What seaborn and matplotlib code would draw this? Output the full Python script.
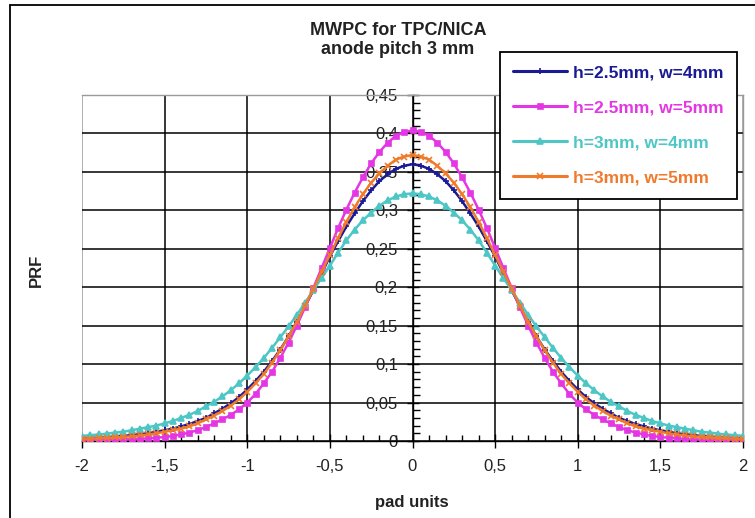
import numpy as np
import pandas as pd
import matplotlib
matplotlib.use("Agg")
import matplotlib.pyplot as plt
import seaborn as sns
from matplotlib.ticker import MultipleLocator, FuncFormatter
from matplotlib.lines import Line2D

# ---------------- data ----------------
pad_x = np.round(np.linspace(-2, 2, 81), 2)

series_labels = ["h=2.5mm, w=4mm", "h=2.5mm, w=5mm", "h=3mm, w=4mm", "h=3mm, w=5mm"]

prf_h25_w4 = [0.0034, 0.0039, 0.0044, 0.0050, 0.0057, 0.0066, 0.0076, 0.0088, 0.010, 0.012,
              0.014, 0.016, 0.019, 0.022, 0.026, 0.030, 0.036, 0.042, 0.049, 0.057,
              0.067, 0.078, 0.090, 0.104, 0.119, 0.136, 0.155, 0.175, 0.196, 0.218,
              0.240, 0.260, 0.279, 0.296, 0.312, 0.326, 0.338, 0.347, 0.354, 0.358,
              0.360,
              0.358, 0.354, 0.347, 0.338, 0.326, 0.312, 0.296, 0.279, 0.260, 0.240,
              0.218, 0.196, 0.175, 0.155, 0.136, 0.119, 0.104, 0.090, 0.078, 0.067,
              0.057, 0.049, 0.042, 0.036, 0.030, 0.026, 0.022, 0.019, 0.016, 0.014,
              0.012, 0.010, 0.0088, 0.0076, 0.0066, 0.0057, 0.0050, 0.0044, 0.0039, 0.0034]

prf_h25_w5 = [0.0008, 0.0009, 0.0011, 0.0013, 0.0016, 0.0019, 0.0023, 0.0028, 0.0034, 0.0042,
              0.0052, 0.0065, 0.0085, 0.011, 0.014, 0.018, 0.023, 0.028, 0.034, 0.041,
              0.050, 0.061, 0.075, 0.090, 0.108, 0.128, 0.150, 0.174, 0.199, 0.225,
              0.251, 0.277, 0.301, 0.323, 0.343, 0.361, 0.376, 0.388, 0.397, 0.402,
              0.404,
              0.402, 0.397, 0.388, 0.376, 0.361, 0.343, 0.323, 0.301, 0.277, 0.251,
              0.225, 0.199, 0.174, 0.150, 0.128, 0.108, 0.090, 0.075, 0.061, 0.050,
              0.041, 0.034, 0.028, 0.023, 0.018, 0.014, 0.011, 0.0085, 0.0065, 0.0052,
              0.0042, 0.0034, 0.0028, 0.0023, 0.0019, 0.0016, 0.0013, 0.0011, 0.0009, 0.0008]

prf_h3_w4 = [0.0067, 0.0075, 0.0085, 0.0095, 0.011, 0.012, 0.014, 0.016, 0.018, 0.020,
             0.023, 0.026, 0.030, 0.034, 0.039, 0.045, 0.051, 0.058, 0.066, 0.075,
             0.085, 0.096, 0.108, 0.121, 0.135, 0.149, 0.164, 0.180, 0.196, 0.212,
             0.228, 0.245, 0.261, 0.275, 0.287, 0.297, 0.306, 0.313, 0.318, 0.321,
             0.322,
             0.321, 0.318, 0.313, 0.306, 0.297, 0.287, 0.275, 0.261, 0.245, 0.228,
             0.212, 0.196, 0.180, 0.164, 0.149, 0.135, 0.121, 0.108, 0.096, 0.085,
             0.075, 0.066, 0.058, 0.051, 0.045, 0.039, 0.034, 0.030, 0.026, 0.023,
             0.020, 0.018, 0.016, 0.014, 0.012, 0.011, 0.0095, 0.0085, 0.0075, 0.0067]

prf_h3_w5 = [0.0027, 0.0031, 0.0035, 0.0040, 0.0046, 0.0053, 0.0062, 0.0072, 0.0085, 0.010,
             0.012, 0.014, 0.016, 0.019, 0.023, 0.028, 0.033, 0.039, 0.046, 0.054,
             0.064, 0.075, 0.087, 0.102, 0.118, 0.136, 0.155, 0.176, 0.198, 0.220,
             0.242, 0.264, 0.285, 0.304, 0.321, 0.336, 0.348, 0.358, 0.366, 0.370,
             0.372,
             0.370, 0.366, 0.358, 0.348, 0.336, 0.321, 0.304, 0.285, 0.264, 0.242,
             0.220, 0.198, 0.176, 0.155, 0.136, 0.118, 0.102, 0.087, 0.075, 0.064,
             0.054, 0.046, 0.039, 0.033, 0.028, 0.023, 0.019, 0.016, 0.014, 0.012,
             0.010, 0.0085, 0.0072, 0.0062, 0.0053, 0.0046, 0.0040, 0.0035, 0.0031, 0.0027]

series_values = [prf_h25_w4, prf_h25_w5, prf_h3_w4, prf_h3_w5]

# ---------------- style ----------------
sns.set_style("white")
plt.rcParams["font.family"] = ["Liberation Sans", "DejaVu Sans"]

colors = ["#1a1a94", "#e436e4", "#4ec6c6", "#f07a2c"]
markers = ["+", "s", "^", "x"]
msizes = [5, 3.6, 4.2, 4]

fig = plt.figure(figsize=(7.55, 5.18), dpi=100)
L, R, T, B = 82, 743, 95, 441
ax = fig.add_axes([L / 755, 1 - B / 518, (R - L) / 755, (B - T) / 518])

for vals, lab, c, m, ms in zip(series_values, series_labels, colors, markers, msizes):
    df = pd.DataFrame({"x": pad_x, "y": vals})
    sns.lineplot(data=df, x="x", y="y", ax=ax, color=c, linewidth=1.8,
                 marker=m, markersize=ms, markeredgewidth=1.2, markeredgecolor=c,
                 estimator=None, sort=False, label=lab, legend=False, zorder=3)

ax.set_xlim(-2, 2)
ax.set_ylim(0, 0.45)
ax.set_xlabel("")
ax.set_ylabel("")

ax.xaxis.set_major_locator(MultipleLocator(0.5))
ax.xaxis.set_minor_locator(MultipleLocator(0.1))
ax.yaxis.set_major_locator(MultipleLocator(0.05))
ax.yaxis.set_minor_locator(MultipleLocator(0.01))
fmt = FuncFormatter(lambda v, p: ("%g" % round(v, 3)).replace(".", ","))
ax.xaxis.set_major_formatter(fmt)
ax.yaxis.set_major_formatter(fmt)

# Excel-style axes crossing at origin
ax.spines["left"].set_position(("data", 0))
ax.spines["left"].set_color("black")
ax.spines["left"].set_linewidth(1.0)
ax.spines["bottom"].set_color("black")
ax.spines["bottom"].set_linewidth(1.0)
for s in ["top", "right"]:
    ax.spines[s].set_visible(True)
    ax.spines[s].set_color("#9a9a9a")
    ax.spines[s].set_linewidth(1.0)

ax.set_axisbelow(True)
ax.grid(True, which="major", color="black", linewidth=1.1)
for gl, xv in zip(ax.xaxis.get_gridlines(), ax.get_xticks()):
    if abs(xv) > 1.99:
        gl.set_color("#9a9a9a")
for gl, yv in zip(ax.yaxis.get_gridlines(), ax.get_yticks()):
    if yv > 0.449:
        gl.set_color("#9a9a9a")

ax.tick_params(axis="x", which="major", direction="inout", length=10, width=1,
               pad=8, labelsize=12, colors="black")
ax.tick_params(axis="x", which="minor", direction="in", length=4.5, width=1, colors="black")
ax.tick_params(axis="y", which="major", direction="inout", length=9, width=1,
               pad=6, labelsize=12, colors="black")
ax.tick_params(axis="y", which="minor", direction="in", length=4.8, width=1, colors="black")
ax.tick_params(bottom=True, left=True, which="both")
for lbl in ax.get_xticklabels() + ax.get_yticklabels():
    lbl.set_color("#222222")

# titles / labels
fig.text(398 / 755, 1 - 22 / 518, "MWPC for TPC/NICA\nanode pitch 3 mm", ha="center",
         va="top", fontsize=13, fontweight="bold", color="#222222", linespacing=1.15)
fig.text(412 / 755, 1 - 502 / 518, "pad units", ha="center", va="center",
         fontsize=12, fontweight="bold", color="#222222")
fig.text(36 / 755, 1 - 270 / 518, "PRF", ha="center", va="center", rotation=90,
         fontsize=12, fontweight="bold", color="#222222")

# legend
handles = [Line2D([], [], color=c, marker=m, markersize=ms, markeredgewidth=1.2, linewidth=2.2)
           for c, m, ms in zip(colors, markers, msizes)]
leg = ax.legend(handles, series_labels, loc="upper left",
                bbox_to_anchor=(500 / 755, 1 - 52 / 518), bbox_transform=fig.transFigure,
                frameon=True, fancybox=False, framealpha=1, edgecolor="black",
                prop={"weight": "bold", "size": 12.5}, labelcolor=colors,
                handlelength=3.1, handletextpad=0.35, labelspacing=1.15,
                borderpad=0.75, borderaxespad=0)
leg.get_frame().set_linewidth(1.3)
leg.set_zorder(10)

# outer chart frame (left and top edges visible)
fig.add_artist(Line2D([9.5 / 755, 9.5 / 755], [0, 1 - 4.5 / 518], color="black",
                      linewidth=1.3, transform=fig.transFigure))
fig.add_artist(Line2D([9.5 / 755, 1], [1 - 4.5 / 518, 1 - 4.5 / 518], color="black",
                      linewidth=1.3, transform=fig.transFigure))

fig.savefig("out.png", dpi=100)
